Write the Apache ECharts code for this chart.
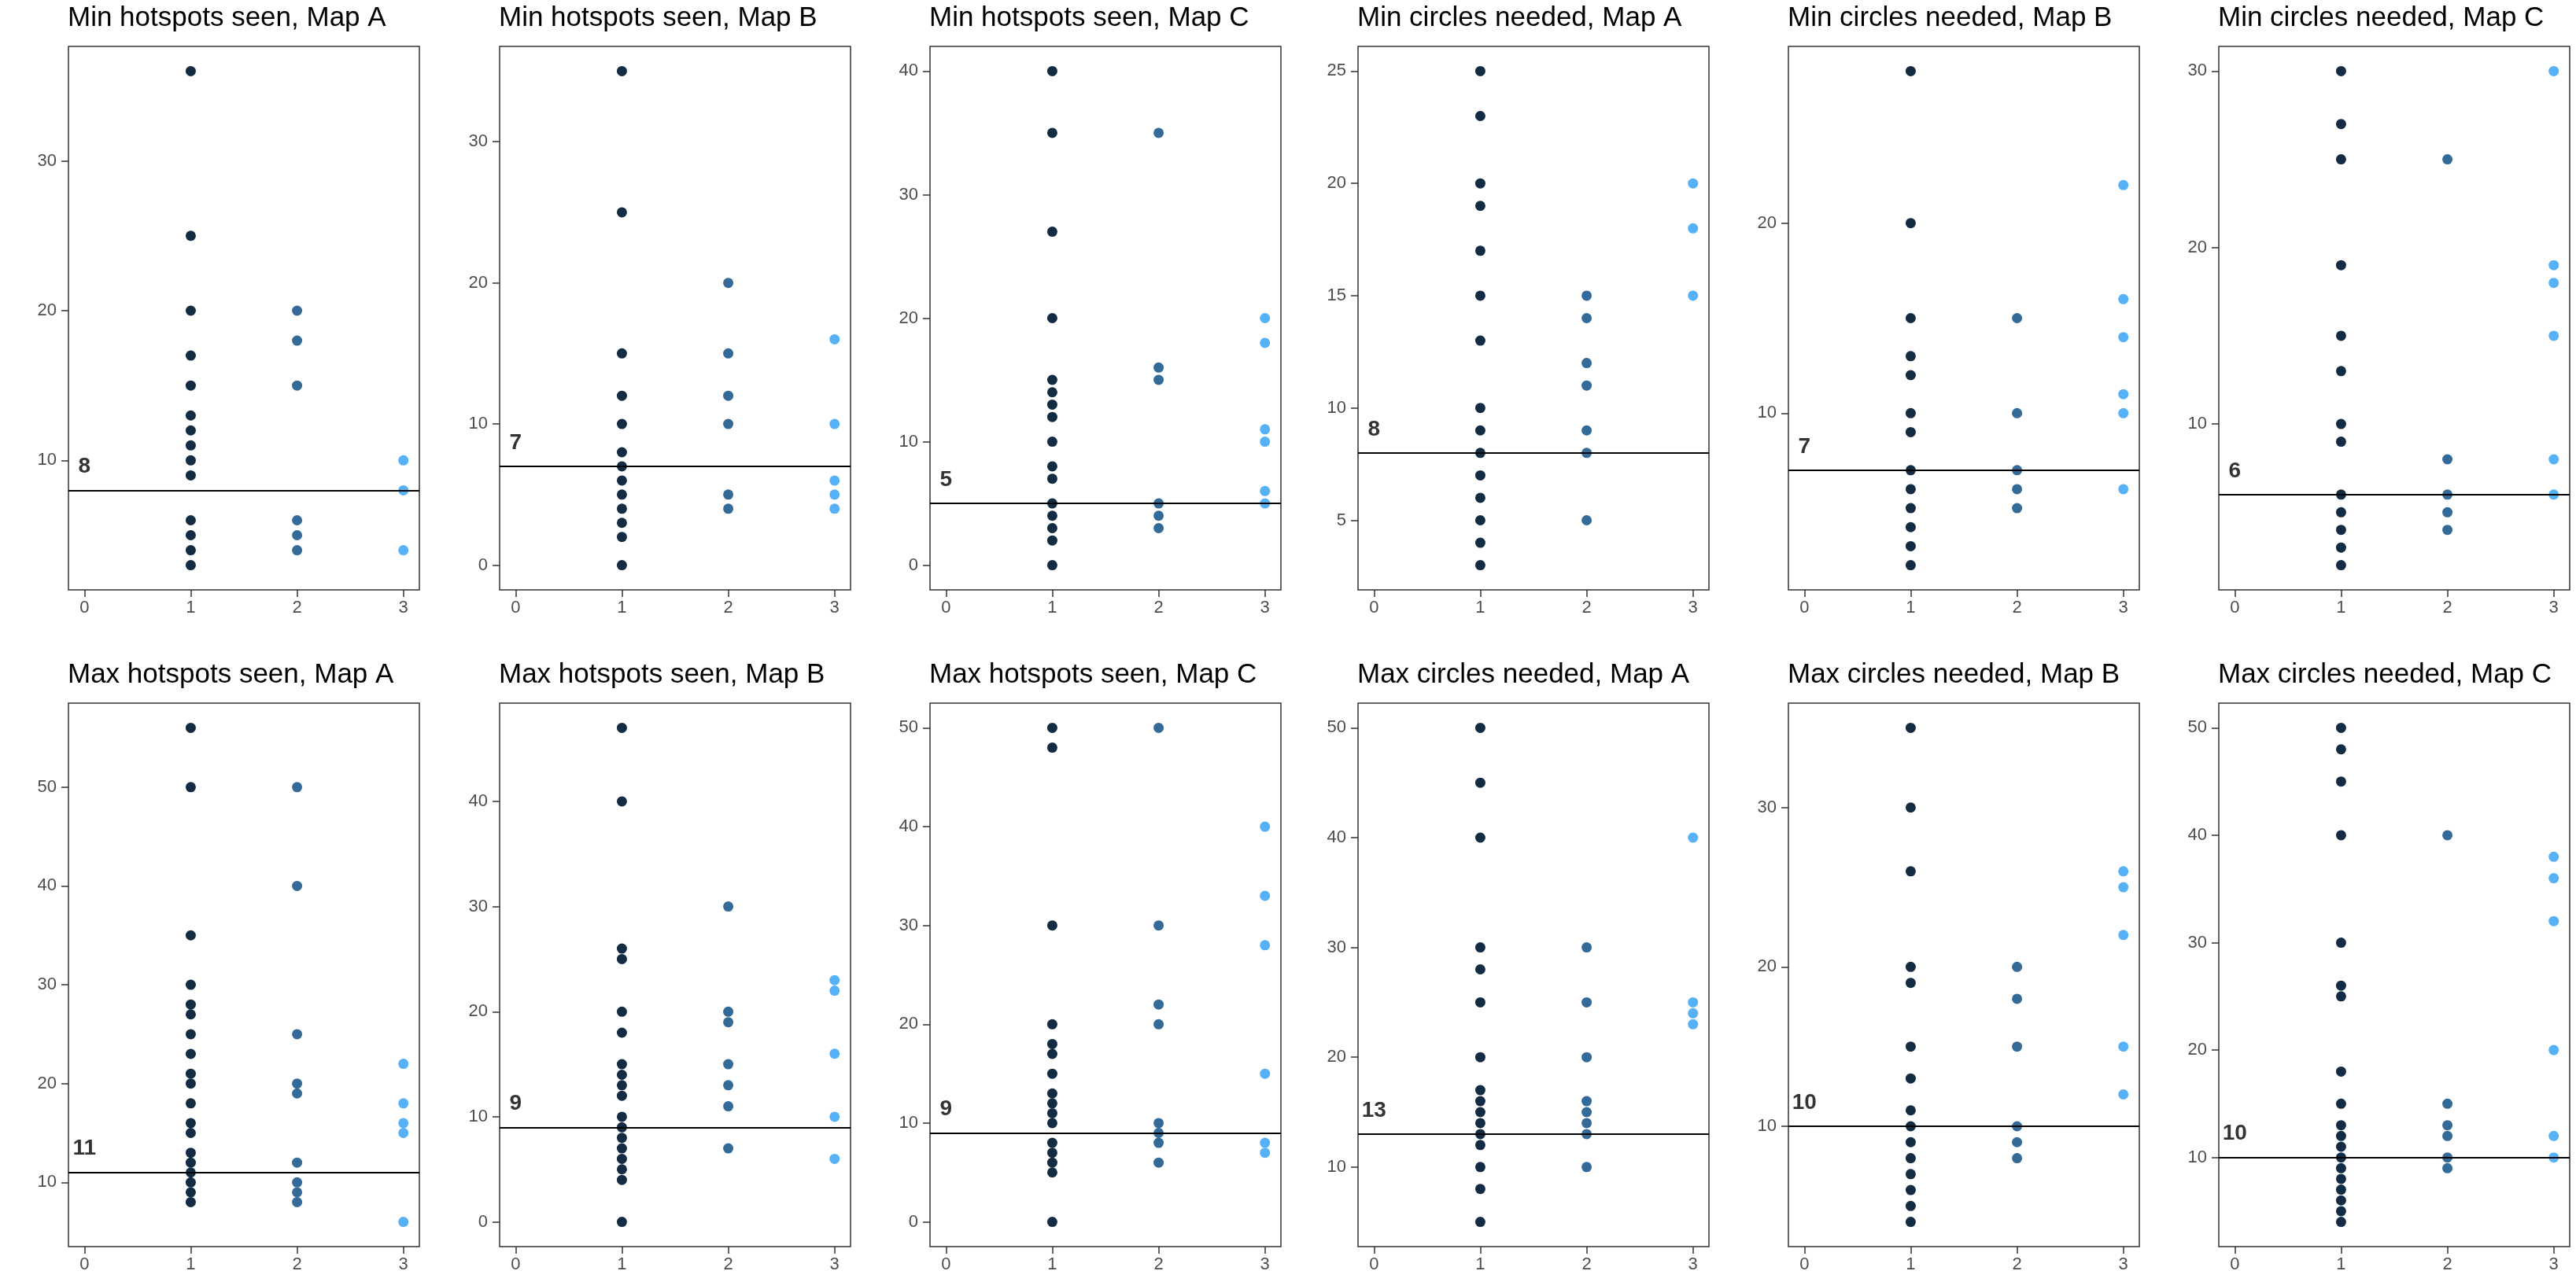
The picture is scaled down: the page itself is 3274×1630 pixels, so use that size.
<!DOCTYPE html>
<html>
<head>
<meta charset="utf-8">
<script src="https://cdn.jsdelivr.net/npm/echarts@6/dist/echarts.min.js"></script>
<style>
html,body{margin:0;padding:0;background:#ffffff;}
#chart{width:3274px;height:1630px;}
</style>
</head>
<body>
<div id="chart"></div>
<script>
// ---------------- DATA ----------------
const panelTitles = [
  "Min hotspots seen, Map A", "Min hotspots seen, Map B", "Min hotspots seen, Map C",
  "Min circles needed, Map A", "Min circles needed, Map B", "Min circles needed, Map C",
  "Max hotspots seen, Map A", "Max hotspots seen, Map B", "Max hotspots seen, Map C",
  "Max circles needed, Map A", "Max circles needed, Map B", "Max circles needed, Map C"
];
const xCategories = [1, 2, 3];
const xTicks = [0, 1, 2, 3];
const hlineValues = [8, 7, 5, 8, 7, 6, 11, 9, 9, 13, 10, 10];

// values at x = 1, one list per panel
const group1Values = [
  [36,25,20,17,15,13,12,11,10,9,6,5,4,3],
  [35,25,15,12,10,8,7,6,5,4,3,2,0],
  [40,35,27,20,15,14,13,12,10,8,7,5,4,3,2,0],
  [25,23,20,19,17,15,13,10,9,8,7,6,5,4,3],
  [28,20,15,13,12,10,9,7,6,5,4,3,2],
  [30,27,25,19,15,13,10,9,6,5,4,3,2],
  [56,50,35,30,28,27,25,23,21,20,18,16,15,13,12,11,10,9,8],
  [47,40,26,25,20,18,15,14,13,12,10,9,8,7,6,5,4,0],
  [50,48,30,20,18,17,15,13,12,11,10,8,7,6,5,0],
  [50,45,40,30,28,25,20,17,16,15,14,13,12,10,8,5],
  [35,30,26,20,19,15,13,11,10,9,8,7,6,5,4],
  [50,48,45,40,30,26,25,18,15,13,12,11,10,9,8,7,6,5,4]
];
// values at x = 2
const group2Values = [
  [20,18,15,6,5,4],
  [20,15,12,10,5,4],
  [35,16,15,5,4,3],
  [15,14,12,11,9,8,5],
  [15,10,7,6,5],
  [25,8,6,5,4],
  [50,40,25,20,19,12,10,9,8],
  [30,20,19,15,13,11,7],
  [50,30,22,20,10,9,8,6],
  [30,25,20,16,15,14,13,10],
  [20,18,15,10,9,8],
  [40,15,13,12,10,9]
];
// values at x = 3
const group3Values = [
  [10,8,4],
  [16,10,6,5,4],
  [20,18,11,10,6,5],
  [20,18,15],
  [22,16,14,11,10,6],
  [30,19,18,15,8,6],
  [22,18,16,15,6],
  [23,22,16,10,6],
  [40,33,28,15,8,7],
  [40,25,24,23],
  [26,25,22,15,12],
  [38,36,32,20,12,10]
];
// y tick labels per panel
const yTickLabels = [
  [10,20,30],
  [0,10,20,30],
  [0,10,20,30,40],
  [5,10,15,20,25],
  [10,20],
  [10,20,30],
  [10,20,30,40,50],
  [0,10,20,30,40],
  [0,10,20,30,40,50],
  [10,20,30,40,50],
  [10,20,30],
  [10,20,30,40,50]
];

// ---------------- STYLE / LAYOUT ----------------
const groupColors = ['#132B43', '#336A98', '#56B1F7'];
const FONT = '"Liberation Sans", Arial, Helvetica, sans-serif';
const plotLefts = [87, 635, 1182, 1726, 2273, 2820];
const plotTops = [59, 894];
const titleTops = [6, 841];
const plotW = 446, plotH = 691;

const grids = [], xAxes = [], yAxes = [], series = [], titles = [];
const groups = [group1Values, group2Values, group3Values];

for (let i = 0; i < 12; i++) {
  const r = Math.floor(i / 6), c = i % 6;
  grids.push({
    left: plotLefts[c], top: plotTops[r], width: plotW, height: plotH,
    containLabel: false, show: true, borderColor: '#333333', borderWidth: 1.5,
    backgroundColor: '#ffffff'
  });
  titles.push({
    text: panelTitles[i], left: plotLefts[c] - 1, top: titleTops[r], padding: 0,
    textStyle: { fontFamily: FONT, fontSize: 35, fontWeight: 'normal', color: '#000000' }
  });
  const all = group1Values[i].concat(group2Values[i], group3Values[i], [hlineValues[i]]);
  const lo = Math.min.apply(null, all), hi = Math.max.apply(null, all);
  const pad = (hi - lo) * 0.05;
  xAxes.push({
    type: 'value', gridIndex: i, min: -0.15, max: 3.15, position: 'bottom',
    axisLine: { show: false, onZero: false }, splitLine: { show: false },
    axisTick: { show: true, inside: false, length: 9, customValues: xTicks, lineStyle: { color: '#333333', width: 1.5 } },
    axisLabel: { show: true, customValues: xTicks, margin: 12, fontSize: 22, color: '#4D4D4D', fontFamily: FONT }
  });
  yAxes.push({
    type: 'value', gridIndex: i, min: lo - pad, max: hi + pad, position: 'left',
    axisLine: { show: false, onZero: false }, splitLine: { show: false },
    axisTick: { show: true, inside: false, length: 9, customValues: yTickLabels[i], lineStyle: { color: '#333333', width: 1.5 } },
    axisLabel: { show: true, customValues: yTickLabels[i], margin: 15, fontSize: 22, color: '#4D4D4D', fontFamily: FONT }
  });
  for (let g = 0; g < 3; g++) {
    series.push({
      type: 'scatter', xAxisIndex: i, yAxisIndex: i, symbol: 'circle', symbolSize: 13,
      itemStyle: { color: groupColors[g], opacity: 1 },
      data: groups[g][i].map(v => [xCategories[g], v]), z: 2, silent: true
    });
  }
  series.push({
    type: 'scatter', xAxisIndex: i, yAxisIndex: i, symbolSize: 0, z: 5, silent: true,
    data: [[0, hlineValues[i]]],
    label: {
      show: true, position: 'inside', offset: [0, -30],
      formatter: p => String(p.value[1]),
      fontFamily: FONT, fontSize: 28, fontWeight: 'bold', color: '#000000'
    },
    markLine: {
      silent: true, symbol: ['none', 'none'], z: 6,
      label: { show: false },
      lineStyle: { color: '#000000', width: 2, type: 'solid' },
      emphasis: { disabled: true },
      data: [{ yAxis: hlineValues[i] }]
    }
  });
}

const chart = echarts.init(document.getElementById('chart'), null, { renderer: 'canvas' });
chart.setOption({
  animation: false,
  backgroundColor: '#ffffff',
  title: titles,
  grid: grids,
  xAxis: xAxes,
  yAxis: yAxes,
  series: series
});
</script>
</body>
</html>
